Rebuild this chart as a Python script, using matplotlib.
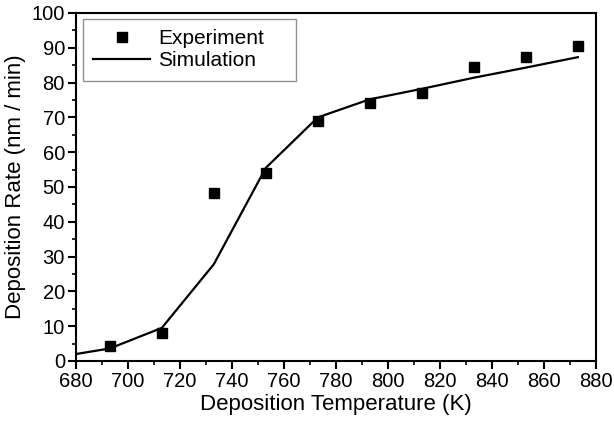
import numpy as np
import matplotlib
matplotlib.use("Agg")
import matplotlib.pyplot as plt
from matplotlib.ticker import MultipleLocator

plt.rcParams["font.family"] = ["Liberation Sans", "DejaVu Sans"]

# Experiment data
exp_temp = [693, 713, 733, 753, 773, 793, 813, 833, 853, 873]
exp_rate = [4.3, 8.0, 48.3, 54.0, 69.0, 74.1, 77.0, 84.5, 87.4, 90.5]

# Simulation curve
sim_temp = [680, 693, 713, 733, 753, 773, 793, 813, 833, 853, 873]
sim_rate = [2.0, 3.6, 9.5, 27.8, 55.5, 70.0, 75.2, 78.2, 81.4, 84.3, 87.3]

fig = plt.figure(figsize=(6.14, 4.23), dpi=100)
ax = fig.add_axes([0.1238, 0.1466, 0.8469, 0.8227])

ax.plot(sim_temp, sim_rate, color="black", linewidth=1.6, label="Simulation", zorder=3)
ax.plot(exp_temp, exp_rate, linestyle="none", marker="s", markersize=7.5,
        color="black", label="Experiment", zorder=4)

ax.set_xlim(680, 880)
ax.set_ylim(0, 100)
ax.xaxis.set_major_locator(MultipleLocator(20))
ax.xaxis.set_minor_locator(MultipleLocator(10))
ax.yaxis.set_major_locator(MultipleLocator(10))
ax.yaxis.set_minor_locator(MultipleLocator(5))
ax.tick_params(which="major", direction="out", length=6, width=1.5, labelsize=14.5,
               top=False, right=False, pad=2)
ax.tick_params(which="minor", direction="out", length=3, width=1.2,
               top=False, right=False)
for sp in ax.spines.values():
    sp.set_linewidth(1.5)

ax.set_xlabel("Deposition Temperature (K)", fontsize=16, labelpad=2)
ax.set_ylabel("Deposition Rate (nm / min)", fontsize=16, labelpad=4)

handles, labels = ax.get_legend_handles_labels()
leg = ax.legend(handles[::-1], labels[::-1], loc="upper left",
                bbox_to_anchor=(0.0135, 0.8, 0.41, 0.183), mode="expand",
                borderaxespad=0.0, fontsize=15,
                frameon=True, fancybox=False, edgecolor="#777777",
                borderpad=0.5, handlelength=2.7,
                handletextpad=0.4, labelspacing=0.15)
leg.get_frame().set_linewidth(1.0)

fig.savefig("out.png", dpi=100)
